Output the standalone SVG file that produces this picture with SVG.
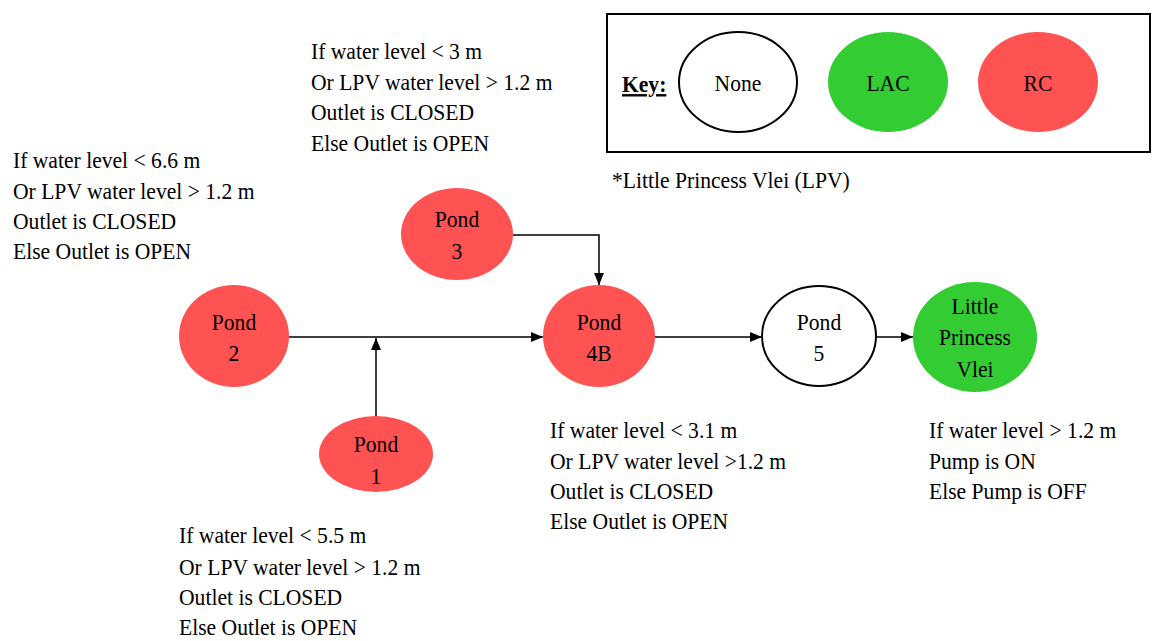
<svg xmlns="http://www.w3.org/2000/svg" width="1154" height="641" viewBox="0 0 1154 641">
<style>
text{font-family:"Liberation Serif","Times New Roman",serif;font-size:24px;fill:#000}
.c{text-anchor:middle}
.rc{fill:#FF5252}
.lac{fill:#33CC33}
.none{fill:#fff;stroke:#000;stroke-width:2}
.ln{fill:none;stroke:#000;stroke-width:1.5}
</style>
<defs>
<marker id="ah" markerWidth="12" markerHeight="10" refX="12" refY="5" orient="auto" markerUnits="userSpaceOnUse">
<path d="M0,0 L12,5 L0,10 Z" fill="#000"/>
</marker>
</defs>
<rect width="1154" height="641" fill="#fff"/>
<g id="key">
<rect x="607" y="14" width="543" height="138" fill="#fff" stroke="#000" stroke-width="2"/>
<text x="622" y="92" font-weight="bold" text-decoration="underline" transform="translate(622,0) scale(0.9,1) translate(-622,0)">Key:</text>
<ellipse class="none" cx="738" cy="82" rx="59" ry="50"/>
<text class="c" x="738" y="91" transform="translate(738,0) scale(0.9,1) translate(-738,0)">None</text>
<ellipse class="lac" cx="888" cy="82" rx="60" ry="50"/>
<text class="c" x="888" y="91" transform="translate(888,0) scale(0.9,1) translate(-888,0)">LAC</text>
<ellipse class="rc" cx="1038" cy="82" rx="60" ry="50"/>
<text class="c" x="1038" y="91" transform="translate(1038,0) scale(0.9,1) translate(-1038,0)">RC</text>
</g>
<text x="612" y="188" transform="translate(612,0) scale(0.9,1) translate(-612,0)">*Little Princess Vlei (LPV)</text>
<g id="connectors">
<line class="ln" x1="289" y1="337" x2="543" y2="337" marker-end="url(#ah)"/>
<line class="ln" x1="376" y1="417" x2="376" y2="338" marker-end="url(#ah)"/>
<polyline class="ln" points="513,235 599,235 599,285" marker-end="url(#ah)"/>
<line class="ln" x1="655" y1="337" x2="762" y2="337" marker-end="url(#ah)"/>
<line class="ln" x1="876" y1="337" x2="913" y2="337" marker-end="url(#ah)"/>
</g>
<g id="pond2">
<ellipse class="rc" cx="234" cy="336" rx="55" ry="51"/>
<g transform="translate(234,0) scale(0.9,1) translate(-234,0)">
<text class="c" x="234" y="330">Pond</text>
<text class="c" x="234" y="361">2</text>
</g>
</g>
<g id="pond1">
<ellipse class="rc" cx="376" cy="454" rx="57" ry="38"/>
<g transform="translate(376,0) scale(0.9,1) translate(-376,0)">
<text class="c" x="376" y="452">Pond</text>
<text class="c" x="376" y="484">1</text>
</g>
</g>
<g id="pond3">
<ellipse class="rc" cx="457" cy="234" rx="56" ry="46"/>
<g transform="translate(457,0) scale(0.9,1) translate(-457,0)">
<text class="c" x="457" y="227">Pond</text>
<text class="c" x="457" y="259">3</text>
</g>
</g>
<g id="pond4b">
<ellipse class="rc" cx="599" cy="336" rx="56" ry="51"/>
<g transform="translate(599,0) scale(0.9,1) translate(-599,0)">
<text class="c" x="599" y="330">Pond</text>
<text class="c" x="599" y="361">4B</text>
</g>
</g>
<g id="pond5">
<ellipse class="none" cx="819" cy="336" rx="57" ry="50"/>
<g transform="translate(819,0) scale(0.9,1) translate(-819,0)">
<text class="c" x="819" y="330">Pond</text>
<text class="c" x="819" y="361">5</text>
</g>
</g>
<g id="lpv">
<ellipse class="lac" cx="975" cy="337" rx="62" ry="55"/>
<g transform="translate(975,0) scale(0.9,1) translate(-975,0)">
<text class="c" x="975" y="314">Little</text>
<text class="c" x="975" y="345">Princess</text>
<text class="c" x="975" y="377">Vlei</text>
</g>
</g>
<g id="rule-pond3" transform="translate(311,0) scale(0.9,1) translate(-311,0)">
<text x="311" y="59">If water level &lt; 3 m</text>
<text x="311" y="90">Or LPV water level &gt; 1.2 m</text>
<text x="311" y="120">Outlet is CLOSED</text>
<text x="311" y="151">Else Outlet is OPEN</text>
</g>
<g id="rule-pond2" transform="translate(13,0) scale(0.9,1) translate(-13,0)">
<text x="13" y="168">If water level &lt; 6.6 m</text>
<text x="13" y="199">Or LPV water level &gt; 1.2 m</text>
<text x="13" y="229">Outlet is CLOSED</text>
<text x="13" y="259">Else Outlet is OPEN</text>
</g>
<g id="rule-pond4b" transform="translate(550,0) scale(0.9,1) translate(-550,0)">
<text x="550" y="438">If water level &lt; 3.1 m</text>
<text x="550" y="469">Or LPV water level &gt;1.2 m</text>
<text x="550" y="499">Outlet is CLOSED</text>
<text x="550" y="529">Else Outlet is OPEN</text>
</g>
<g id="rule-pond1" transform="translate(179,0) scale(0.9,1) translate(-179,0)">
<text x="179" y="543">If water level &lt; 5.5 m</text>
<text x="179" y="575">Or LPV water level &gt; 1.2 m</text>
<text x="179" y="605">Outlet is CLOSED</text>
<text x="179" y="635">Else Outlet is OPEN</text>
</g>
<g id="rule-lpv" transform="translate(929,0) scale(0.9,1) translate(-929,0)">
<text x="929" y="438">If water level &gt; 1.2 m</text>
<text x="929" y="469">Pump is ON</text>
<text x="929" y="499">Else Pump is OFF</text>
</g>
</svg>
